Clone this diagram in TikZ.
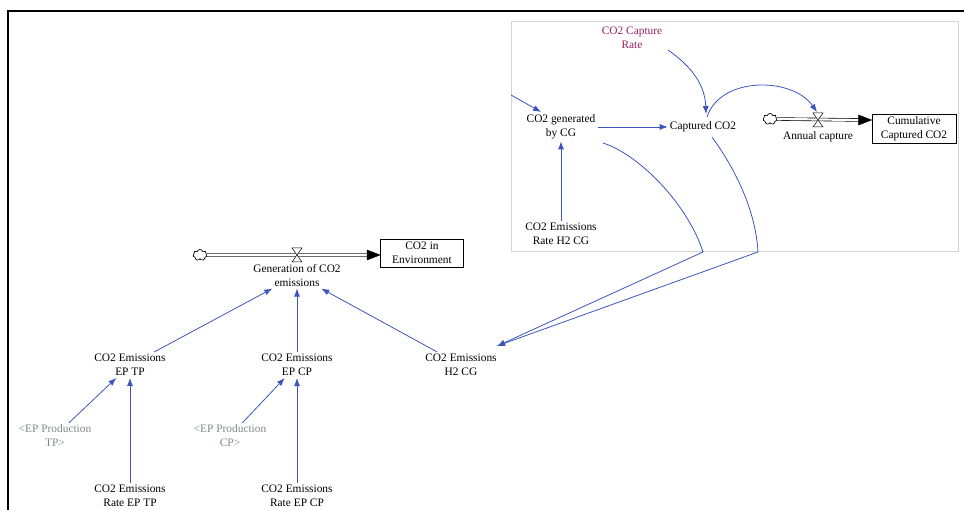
\documentclass[tikz,border=0pt]{standalone}
\usepackage{fontspec}
\setmainfont{Liberation Serif}
\usetikzlibrary{arrows.meta,shapes.symbols}
\definecolor{lk}{RGB}{60,85,190}
\definecolor{pur}{RGB}{155,30,95}
\definecolor{shd}{RGB}{125,140,132}
\definecolor{frm}{RGB}{212,212,212}
\tikzset{
  lbl/.style={align=center,inner sep=2pt,font=\fontsize{11.4}{14}\selectfont},
  shadow/.style={lbl,text=shd},
  stock/.style={lbl,draw,line width=0.8pt,minimum width=84pt,minimum height=29pt},
  link/.style={draw=lk,line width=0.8pt,-{Latex[length=8pt,width=6pt]}},
  pipe/.style={draw=black,double=white,double distance=2.2pt,line width=0.6pt},
  cloudy/.style={cloud,draw,cloud puffs=7,minimum width=14pt,minimum height=11pt,inner sep=0pt,line width=0.7pt},
}
\begin{document}
\begin{tikzpicture}[x=1pt,y=-1pt]
\useasboundingbox (0,0) rectangle (964,510);
% outer frame
\draw[line width=1.2pt] (8,510) -- (8,11) -- (964,11);
% inset box
\draw[frm,line width=1pt] (511,22) rectangle (958,252);

% ---------- upper (inset) part ----------
\node[lbl,text=pur] (crate) at (632,38) {CO2 Capture\\Rate};
\node[lbl] (cgen) at (561,127) {CO2 generated\\by CG};
\node[lbl] (capt) at (703,127) {Captured CO2};
\node[lbl] (rh2) at (561,234) {CO2 Emissions\\Rate H2 CG};
\node[cloudy] (cl2) at (770,119) {};
\node[stock] (cum) at (914,129) {Cumulative\\Captured CO2};
\coordinate (v2) at (818,120);
\draw[pipe] (cl2.east) -- ([xshift=-10pt]cum.west |- v2);
\draw[fill=black] (cum.west |- v2) -- ++(-13,-5) -- ++(0,10) -- cycle;
\draw[fill=white,line width=0.5pt] (v2) -- ++(-5,-7) -- ++(10,0) -- cycle
      (v2) -- ++(-5,7) -- ++(10,0) -- cycle;
\node[lbl,anchor=north] (acap) at (818,129) {Annual capture};

\coordinate (inl) at (511,95);
\coordinate (crs) at (668,50);
\coordinate (ars) at (707,117);
\draw[link] (inl) -- (541,112);
\draw[link] (crs) to[out=-35,in=92] (706,114);
\draw[link] (ars) to[out=72,in=125] (817,112);
\draw[link] (cgen.east) -- (capt.west);
\draw[link] (rh2.north) -- (cgen.south);

% ---------- lower part ----------
\node[cloudy] (cl1) at (200,255) {};
\node[stock,minimum width=83pt,minimum height=28pt] (env) at (422,253) {CO2 in\\Environment};
\coordinate (v1) at (297,255);
\draw[pipe] (cl1.east) -- ([xshift=-10pt]env.west |- v1);
\draw[fill=black] (env.west |- v1) -- ++(-13,-5) -- ++(0,10) -- cycle;
\draw[fill=white,line width=0.5pt] (v1) -- ++(-5,-7) -- ++(10,0) -- cycle
      (v1) -- ++(-5,7) -- ++(10,0) -- cycle;
\node[lbl,anchor=north] (gen) at (297,262) {Generation of CO2\\emissions};

\node[lbl] (eptp) at (130,365) {CO2 Emissions\\EP TP};
\node[lbl] (epcp) at (297,365) {CO2 Emissions\\EP CP};
\node[lbl] (h2cg) at (461,365) {CO2 Emissions\\H2 CG};
\node[shadow] (prtp) at (55,436) {<EP Production\\TP>};
\node[shadow] (prcp) at (230,436) {<EP Production\\CP>};
\node[lbl] (rtp) at (130,496) {CO2 Emissions\\Rate EP TP};
\node[lbl] (rcp) at (297,496) {CO2 Emissions\\Rate EP CP};

\draw[link] (eptp) -- (gen);
\draw[link] (epcp) -- (gen);
\draw[link] (h2cg) -- (gen);
\draw[link] (prtp) -- (eptp);
\draw[link] (rtp) -- (eptp);
\draw[link] (prcp) -- (epcp);
\draw[link] (rcp) -- (epcp);

% links from inset down to H2 CG
\coordinate (s1) at (603,143);
\coordinate (s2) at (712,137);
\coordinate (k1) at (703,252);
\coordinate (k2) at (758,252);
\coordinate (hend) at (497,346);
\draw[link] (s1) .. controls (640,155) and (688,205) .. (k1) -- (hend);
\draw[link] (s2) .. controls (725,155) and (755,200) .. (k2) -- (hend);
\end{tikzpicture}
\end{document}
